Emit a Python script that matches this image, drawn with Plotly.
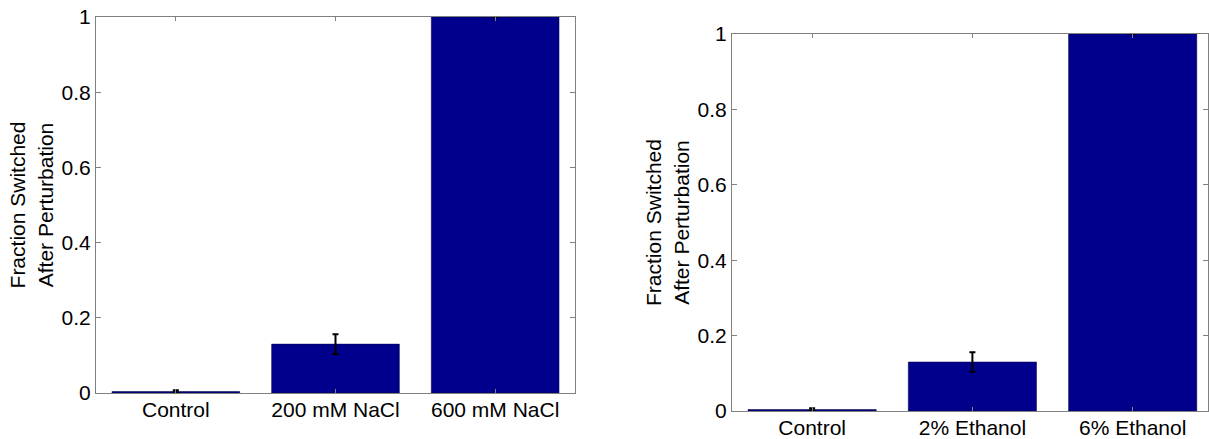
import plotly.graph_objects as go

# ---- data ----
nacl_categories = ["Control", "200 mM NaCl", "600 mM NaCl"]
nacl_values = [0.004, 0.130, 1.0]
nacl_errors = [0.003, 0.026, 0.0]

ethanol_categories = ["Control", "2% Ethanol", "6% Ethanol"]
ethanol_values = [0.004, 0.130, 1.0]
ethanol_errors = [0.003, 0.026, 0.0]

y_ticks = [0, 0.2, 0.4, 0.6, 0.8, 1]
y_ticklabels = ["0", "0.2", "0.4", "0.6", "0.8", "1"]
y_title = "Fraction Switched<br>After Perturbation"

BAR_COLOR = "#00008C"
AXIS_COLOR = "#808080"
FONT = "Liberation Sans, Arial, sans-serif"

fig = go.Figure()

fig.add_trace(go.Bar(
    x=list(range(len(nacl_categories))), y=nacl_values, width=0.8,
    marker=dict(color=BAR_COLOR, line=dict(color="#000040", width=0.5)),
    error_y=dict(type="data", array=nacl_errors, color="black", thickness=2, width=3),
    xaxis="x", yaxis="y", showlegend=False,
))
fig.add_trace(go.Bar(
    x=list(range(len(ethanol_categories))), y=ethanol_values, width=0.8,
    marker=dict(color=BAR_COLOR, line=dict(color="#000040", width=0.5)),
    error_y=dict(type="data", array=ethanol_errors, color="black", thickness=2, width=3),
    xaxis="x2", yaxis="y2", showlegend=False,
))

common_x = dict(
    tickmode="array", ticks="inside", ticklen=4, tickcolor=AXIS_COLOR,
    showline=True, linecolor=AXIS_COLOR, linewidth=1, mirror="ticks",
    showgrid=False, zeroline=False, automargin=False, ticklabelstandoff=-2,
    tickfont=dict(size=21, color="black", family=FONT),
)
common_y = dict(
    tickmode="array", tickvals=y_ticks, ticktext=y_ticklabels,
    ticks="inside", ticklen=5, tickcolor=AXIS_COLOR,
    showline=True, linecolor=AXIS_COLOR, linewidth=1, mirror="ticks",
    showgrid=False, zeroline=False, range=[0, 1], automargin=False,
    tickfont=dict(size=21, color="black", family=FONT),
    title=dict(text=y_title, font=dict(size=21, color="black", family=FONT), standoff=2),
)

fig.update_layout(
    width=1209, height=439,
    margin=dict(l=0, r=0, t=0, b=0, pad=0),
    paper_bgcolor="white", plot_bgcolor="white",
    font=dict(family=FONT, color="black"),
    xaxis=dict(domain=[96/1209, 575/1209], range=[-0.5, 2.5],
               tickvals=list(range(len(nacl_categories))), ticktext=nacl_categories,
               anchor="y", **common_x),
    yaxis=dict(domain=[1-393/439, 1-17/439], anchor="x", **common_y),
    xaxis2=dict(domain=[732/1209, 1208/1209], range=[-0.5, 2.47],
                tickvals=list(range(len(ethanol_categories))), ticktext=ethanol_categories,
                anchor="y2", **common_x),
    yaxis2=dict(domain=[1-411/439, 1-34/439], anchor="x2", **common_y),
)

fig.write_html("out.html", config={"displayModeBar": False},
               post_script="document.body.style.margin='0';document.body.style.overflow='hidden';")
